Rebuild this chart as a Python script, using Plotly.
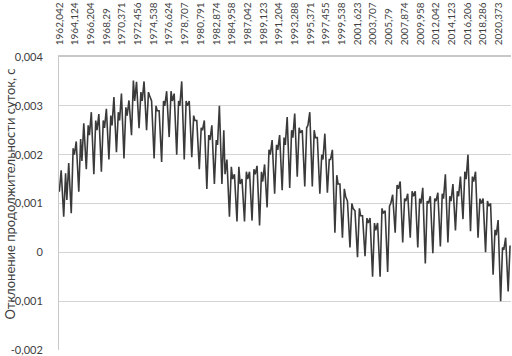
import plotly.graph_objects as go

# Seasonal samples per year (s): January, April, August, November
years = list(range(1962, 2022))
lod_jan = [0.00124, 0.00107, 0.00200, 0.00187, 0.00240, 0.00250, 0.00255, 0.00260, 0.00270, 0.00280,
           0.00310, 0.00310, 0.00320, 0.00290, 0.00300, 0.00310, 0.00300, 0.00300, 0.00270, 0.00250,
           0.00230, 0.00220, 0.00160, 0.00150, 0.00140, 0.00150, 0.00160, 0.00145, 0.00200, 0.00210,
           0.00220, 0.00235, 0.00245, 0.00260, 0.00235, 0.00190, 0.00190, 0.00140, 0.00115, 0.00090,
           0.00075, 0.00060, 0.00045, 0.00080, 0.00100, 0.00130, 0.00105, 0.00115, 0.00100, 0.00100,
           0.00105, 0.00110, 0.00105, 0.00115, 0.00150, 0.00145, 0.00100, 0.00095, 0.00035, 0.00005]
lod_apr = [0.00168, 0.00183, 0.00227, 0.00264, 0.00287, 0.00283, 0.00294, 0.00318, 0.00325, 0.00311,
           0.00349, 0.00350, 0.00310, 0.00290, 0.00330, 0.00325, 0.00350, 0.00310, 0.00270, 0.00270,
           0.00260, 0.00300, 0.00190, 0.00160, 0.00150, 0.00165, 0.00177, 0.00180, 0.00230, 0.00240,
           0.00277, 0.00284, 0.00250, 0.00287, 0.00235, 0.00243, 0.00210, 0.00140, 0.00105, 0.00085,
           0.00075, 0.00070, 0.00060, 0.00085, 0.00118, 0.00145, 0.00120, 0.00125, 0.00132, 0.00115,
           0.00122, 0.00160, 0.00140, 0.00155, 0.00200, 0.00165, 0.00110, 0.00100, 0.00066, 0.00030]
lod_aug = [0.00073, 0.00080, 0.00124, 0.00170, 0.00160, 0.00165, 0.00190, 0.00205, 0.00192, 0.00240,
           0.00254, 0.00250, 0.00192, 0.00185, 0.00236, 0.00200, 0.00190, 0.00195, 0.00170, 0.00130,
           0.00140, 0.00140, 0.00073, 0.00063, 0.00063, 0.00065, 0.00055, 0.00092, 0.00120, 0.00127,
           0.00132, 0.00155, 0.00135, 0.00135, 0.00120, 0.00122, 0.00040, 0.00030, 0.00010, -0.00010,
           -0.00008, -0.00050, -0.00050, -0.00040, 0.00040, 0.00020, 0.00030, 0.00010, -0.00023, -0.00002,
           0.00012, 0.00020, 0.00045, 0.00068, 0.00043, 0.00030, 0.00000, -0.00046, -0.00100, -0.00080]
lod_nov = [0.00162, 0.00213, 0.00232, 0.00260, 0.00270, 0.00270, 0.00280, 0.00287, 0.00297, 0.00352,
           0.00328, 0.00328, 0.00300, 0.00310, 0.00330, 0.00310, 0.00310, 0.00280, 0.00255, 0.00240,
           0.00230, 0.00250, 0.00175, 0.00175, 0.00165, 0.00170, 0.00165, 0.00210, 0.00220, 0.00235,
           0.00250, 0.00255, 0.00255, 0.00250, 0.00200, 0.00190, 0.00158, 0.00130, 0.00100, 0.00090,
           0.00070, 0.00060, 0.00090, 0.00095, 0.00138, 0.00110, 0.00125, 0.00110, 0.00105, 0.00110,
           0.00120, 0.00115, 0.00125, 0.00165, 0.00155, 0.00110, 0.00105, 0.00046, 0.00010, 0.00014]
month_frac = [0.042, 0.29, 0.625, 0.875]

x_tick_labels = ["1962,042", "1964,124", "1966,204", "1968,29", "1970,371", "1972,456", "1974,538",
                 "1976,624", "1978,707", "1980,791", "1982,874", "1984,958", "1987,042", "1989,123",
                 "1991,204", "1993,288", "1995,371", "1997,455", "1999,538", "2001,623", "2003,707",
                 "2005,79", "2007,874", "2009,958", "2012,042", "2014,123", "2016,206", "2018,286",
                 "2020,373"]
y_tick_vals = [-0.002, -0.001, 0, 0.001, 0.002, 0.003, 0.004]
y_tick_labels = ["-0,002", "-0,001", "0", "0,001", "0,002", "0,003", "0,004"]
y_title = "Отклонение продолжительности суток, с"

xs, ys = [], []
for i, yr in enumerate(years):
    for f, v in zip(month_frac, (lod_jan[i], lod_apr[i], lod_aug[i], lod_nov[i])):
        xs.append(yr + f)
        ys.append(v)

tick_vals = [float(s.replace(",", ".")) for s in x_tick_labels]

font = dict(family="Lato, 'Open Sans', sans-serif", size=11, color="#404040")
xfont = dict(family="Lato, 'Open Sans', sans-serif", size=10, color="#404040")

fig = go.Figure(go.Scatter(x=xs, y=ys, mode="lines",
                           line=dict(color="#3a3a3a", width=1.6), hoverinfo="skip"))

fig.update_layout(
    width=512, height=356,
    margin=dict(l=59, r=1, t=57, b=6),
    paper_bgcolor="white", plot_bgcolor="white",
    showlegend=False, font=font,
)
fig.update_xaxes(
    range=[1962.0, 2022.0], side="top", automargin=False,
    tickmode="array", tickvals=tick_vals, ticktext=x_tick_labels,
    tickangle=-90, ticklabelstandoff=8,
    showgrid=False, zeroline=False,
    showline=True, linecolor="#c8c8c8", linewidth=1.5,
    tickfont=xfont,
)
fig.update_yaxes(
    range=[-0.002, 0.004], automargin=False,
    tickmode="array", tickvals=y_tick_vals, ticktext=y_tick_labels,
    showgrid=True, gridcolor="#d4d4d4", gridwidth=1,
    zeroline=False, showline=True, linecolor="#c8c8c8", linewidth=1,
    ticklabelstandoff=13, tickfont=font,
)
fig.add_annotation(
    text=y_title, textangle=-90, showarrow=False,
    xref="paper", yref="paper", x=-0.108, y=0.531,
    xanchor="center", yanchor="middle",
    font=dict(family="Lato, 'Open Sans', sans-serif", size=13, color="#404040"),
)

fig.write_html("out.html", config={"displayModeBar": False},
               post_script="document.body.style.margin='0';document.body.style.padding='0';")
